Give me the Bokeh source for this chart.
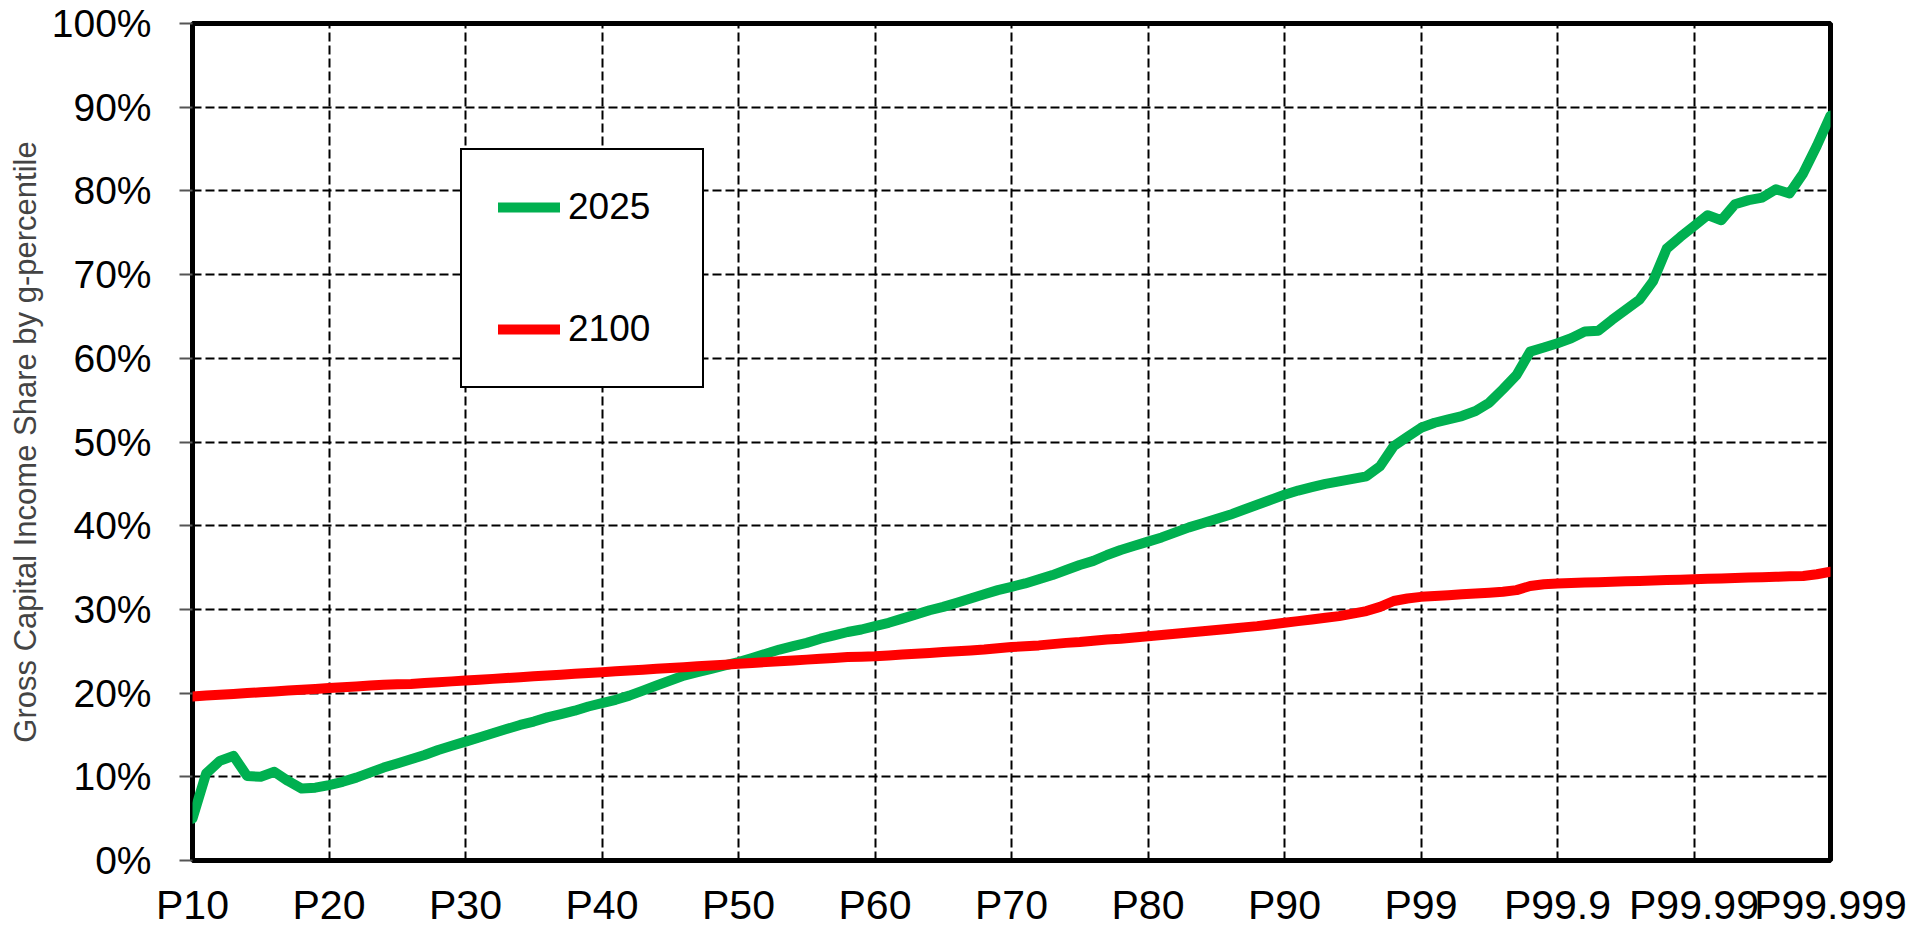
from bokeh.plotting import figure
from bokeh.models import Range1d, FixedTicker, Legend, LegendItem
from bokeh.embed import file_html
from bokeh.resources import INLINE

tick_labels = ["P10", "P20", "P30", "P40", "P50", "P60", "P70", "P80",
               "P90", "P99", "P99.9", "P99.99", "P99.999"]

series_2025 = [
    5.0, 10.4, 11.9, 12.5, 10.1, 10.0, 10.6, 9.5, 8.6, 8.7, 9.0,
    9.4, 9.9, 10.5, 11.1, 11.6, 12.1, 12.6, 13.2, 13.7, 14.2,
    14.7, 15.2, 15.7, 16.2, 16.6, 17.1, 17.5, 17.9, 18.4, 18.8,
    19.2, 19.7, 20.3, 20.9, 21.5, 22.1, 22.5, 22.9, 23.3, 23.7,
    24.2, 24.7, 25.2, 25.6, 26.0, 26.5, 26.9, 27.3, 27.6, 28.0,
    28.4, 28.9, 29.4, 29.9, 30.3, 30.8, 31.3, 31.8, 32.3, 32.7,
    33.1, 33.6, 34.1, 34.7, 35.3, 35.8, 36.5, 37.1, 37.6, 38.1,
    38.6, 39.2, 39.8, 40.3, 40.8, 41.3, 41.9, 42.5, 43.1, 43.7,
    44.2, 44.6, 45.0, 45.3, 45.6, 45.9, 47.1, 49.5, 50.6, 51.7,
    52.3, 52.7, 53.1, 53.7, 54.7, 56.3, 58.0, 60.8, 61.3, 61.8,
    62.4, 63.2, 63.3, 64.6, 65.8, 67.0, 69.2, 73.1, 74.5, 75.8,
    77.1, 76.5, 78.4, 78.9, 79.2, 80.2, 79.7, 82.1, 85.4, 89.0,
]

series_2100 = [
    19.6, 19.7, 19.8, 19.9, 20.0, 20.1, 20.2, 20.3, 20.4, 20.5, 20.6,
    20.7, 20.8, 20.9, 21.0, 21.05, 21.1, 21.2, 21.3, 21.4, 21.5,
    21.6, 21.7, 21.8, 21.9, 22.0, 22.1, 22.2, 22.3, 22.4, 22.5,
    22.6, 22.7, 22.8, 22.9, 23.0, 23.1, 23.2, 23.3, 23.4, 23.5,
    23.6, 23.7, 23.8, 23.9, 24.0, 24.1, 24.2, 24.3, 24.35, 24.4,
    24.5, 24.6, 24.7, 24.8, 24.9, 25.0, 25.1, 25.2, 25.35, 25.5,
    25.6, 25.7, 25.85, 26.0, 26.1, 26.25, 26.4, 26.5, 26.65, 26.8,
    26.95, 27.1, 27.25, 27.4, 27.55, 27.7, 27.85, 28.0, 28.2, 28.4,
    28.6, 28.8, 29.0, 29.2, 29.5, 29.8, 30.3, 31.0, 31.3, 31.5,
    31.6, 31.7, 31.8, 31.9, 32.0, 32.1, 32.3, 32.8, 33.0, 33.1,
    33.15, 33.2, 33.25, 33.3, 33.35, 33.4, 33.45, 33.5, 33.55, 33.6,
    33.65, 33.7, 33.75, 33.8, 33.85, 33.9, 33.95, 34.0, 34.2, 34.5,
]

y_ticks = [0, 10, 20, 30, 40, 50, 60, 70, 80, 90, 100]

FONT = "Liberation Sans"
GREEN = "#00B050"
RED = "#FF0000"

xs = list(range(len(series_2025)))
x_tick_pos = [i * 10 for i in range(len(tick_labels))]

p = figure(width=1926, height=930, output_backend="svg", toolbar_location=None,
           x_range=Range1d(0, len(series_2025) - 1), y_range=Range1d(0, 100),
           min_border_left=192, min_border_right=96, min_border_top=23,
           min_border_bottom=68)

p.outline_line_color = "black"
p.outline_line_width = 5

# axes
p.xaxis.ticker = FixedTicker(ticks=x_tick_pos)
p.xaxis.major_label_overrides = {pos: lab for pos, lab in zip(x_tick_pos, tick_labels)}
p.yaxis.ticker = FixedTicker(ticks=y_ticks)
p.yaxis.major_label_overrides = {v: f"{v}%" for v in y_ticks}

for ax in (p.xaxis[0], p.yaxis[0]):
    ax.axis_line_color = None
    ax.minor_tick_line_color = None
    ax.major_label_text_font = FONT
    ax.major_label_text_color = "black"

p.xaxis.major_label_text_font_size = "41px"
p.yaxis.major_label_text_font_size = "39px"

p.xaxis.major_tick_line_color = None
p.xaxis.major_tick_out = 0
p.xaxis.major_tick_in = 0
p.xaxis.major_label_standoff = 21
p.yaxis.major_tick_in = 0
p.yaxis.major_tick_out = 13
p.yaxis.major_tick_line_color = "#555555"
p.yaxis.major_tick_line_width = 2
p.yaxis.major_label_standoff = 28

p.yaxis.axis_label = "Gross Capital Income Share by g-percentile"
p.yaxis.axis_label_text_font = FONT
p.yaxis.axis_label_text_font_size = "31px"
p.yaxis.axis_label_text_font_style = "normal"
p.yaxis.axis_label_standoff = 6

# grid
for g in (p.xgrid[0], p.ygrid[0]):
    g.grid_line_color = "black"
    g.grid_line_width = 2
    g.grid_line_dash = "9 4"

r1 = p.line(xs, series_2025, line_color=GREEN, line_width=10,
            line_cap="round", line_join="round")
r2 = p.line(xs, series_2100, line_color=RED, line_width=10,
            line_cap="round", line_join="round")

legend = Legend(items=[LegendItem(label="2025", renderers=[r1]),
                       LegendItem(label="2100", renderers=[r2])],
                location=(268, 472), orientation="vertical")
legend.margin = 0
legend.padding = 36
legend.spacing = 80
legend.glyph_width = 62
legend.glyph_height = 40
legend.label_height = 40
legend.label_width = 98
legend.label_standoff = 8
legend.label_text_font = FONT
legend.label_text_font_size = "37px"
legend.label_text_color = "black"
legend.border_line_color = "black"
legend.border_line_alpha = 1.0
legend.border_line_width = 2.5
legend.background_fill_color = "white"
legend.background_fill_alpha = 1.0
p.add_layout(legend, "center")

open("out.html", "w").write(file_html(p, INLINE))
